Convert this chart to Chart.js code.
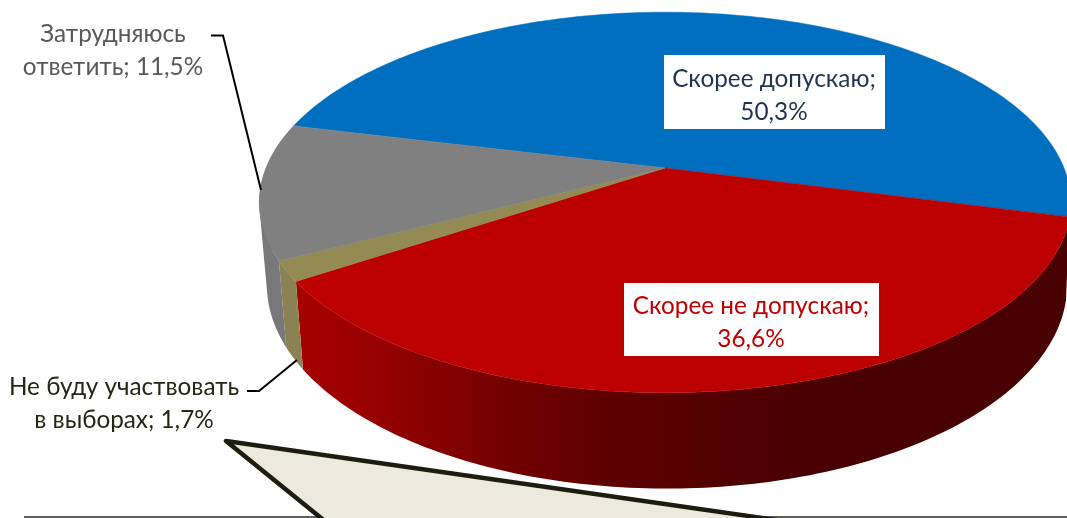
<!DOCTYPE html>
<html lang="ru">
<head>
<meta charset="utf-8">
<title>Скорее допускаю</title>
<script src="https://cdn.jsdelivr.net/npm/chart.js@4"></script>
<style>
  html, body { margin: 0; padding: 0; background: #fff; }
  canvas { display: block; }
</style>
</head>
<body>
<canvas id="grafico" width="1067" height="518"></canvas>
<script>
const categorias = ['Скорее допускаю', 'Скорее не допускаю', 'Не буду участвовать в выборах', 'Затрудняюсь ответить'];
const valores = [50.3, 36.6, 1.7, 11.5];
const coresTopo = ['#006fc0', '#bc0000', '#948a54', '#808080'];
const coresLado = [null, null, '#8b8253', '#78787b'];
const rotacao = -76.2;

// perspective of the pie: same tilt for both discs, the lower one is just moved down
const tilt = 0.181;
const discoTopo = { x: 665, y: 168, a: 399, b: 184 };
const discoBase = { x: 667, y: 248, a: 393.5, b: 197 };

const FONTE = '24.3px Lato, "Noto Sans", sans-serif';

function projetar(disco, ang) {
    const u = Math.cos(ang), v = Math.sin(ang);
    const w = 1 - tilt * v;
    return [disco.x + disco.a * u / w, disco.y + disco.b * v / w];
}

function pontosArco(disco, ini, fim) {
    const pts = [];
    const passos = Math.max(2, Math.ceil((fim - ini) / (Math.PI / 180)));
    for (let i = 0; i <= passos; i++) {
        pts.push(projetar(disco, ini + (fim - ini) * i / passos));
    }
    return pts;
}

function tracar(ctx, pts) {
    ctx.beginPath();
    pts.forEach((p, i) => i === 0 ? ctx.moveTo(p[0], p[1]) : ctx.lineTo(p[0], p[1]));
    ctx.closePath();
}

function areaSinal(pts) {
    let s = 0;
    pts.forEach((p, i) => {
        const q = pts[(i + 1) % pts.length];
        s += p[0] * q[1] - q[0] * p[1];
    });
    return s;
}

function gradienteVermelho(ctx) {
    const g = ctx.createLinearGradient(300, 0, 1067, 0);
    g.addColorStop(0, '#a80000');
    g.addColorStop(0.13, '#900000');
    g.addColorStop(0.26, '#750000');
    g.addColorStop(0.39, '#600000');
    g.addColorStop(0.52, '#540000');
    g.addColorStop(0.65, '#4a0000');
    g.addColorStop(1, '#480000');
    return g;
}

const pizza3d = {
    id: 'pizza3d',
    beforeDatasetDraw(chart) {
        const ctx = chart.ctx;
        const arcos = chart.getDatasetMeta(0).data;

        // side wall first, only the slices facing the viewer.
        // quads with the same winding in one path, otherwise the wall cancels itself
        // where it turns round at the left
        arcos.forEach((arco, i) => {
            const meio = (arco.startAngle + arco.endAngle) / 2;
            if (Math.sin(meio) < -0.5) return;
            const cima = pontosArco(discoTopo, arco.startAngle, arco.endAngle);
            const baixo = pontosArco(discoBase, arco.startAngle, arco.endAngle);
            ctx.beginPath();
            for (let k = 0; k < cima.length - 1; k++) {
                const quad = [cima[k], cima[k + 1], baixo[k + 1], baixo[k]];
                if (areaSinal(quad) < 0) quad.reverse();
                quad.forEach((p, n) => n === 0 ? ctx.moveTo(p[0], p[1]) : ctx.lineTo(p[0], p[1]));
                ctx.closePath();
            }
            ctx.fillStyle = coresLado[i] || gradienteVermelho(ctx);
            ctx.fill();
        });

        arcos.forEach((arco, i) => {
            const borda = pontosArco(discoTopo, arco.startAngle, arco.endAngle);
            tracar(ctx, [[discoTopo.x, discoTopo.y]].concat(borda));
            ctx.fillStyle = coresTopo[i];
            ctx.strokeStyle = coresTopo[i];
            ctx.lineWidth = 0.5;
            ctx.fill();
            ctx.stroke();
        });
        return false;
    },
    afterDraw(chart) {
        const ctx = chart.ctx;
        ctx.save();

        // bottom rule and the beige callout that is cut off by the page
        ctx.strokeStyle = '#2a2a2a';
        ctx.lineWidth = 1.5;
        ctx.beginPath();
        ctx.moveTo(24, 517);
        ctx.lineTo(1067, 517);
        ctx.stroke();

        ctx.beginPath();
        ctx.moveTo(226, 441);
        ctx.lineTo(790, 522);
        ctx.lineTo(326, 522);
        ctx.closePath();
        ctx.fillStyle = '#ece9dd';
        ctx.strokeStyle = '#1d1d0f';
        ctx.lineWidth = 4.5;
        ctx.lineJoin = 'round';
        ctx.fill();
        ctx.stroke();

        // leader lines
        ctx.strokeStyle = '#000';
        ctx.lineWidth = 2;
        ctx.lineJoin = 'miter';
        ctx.beginPath();
        ctx.moveTo(211, 35.5);
        ctx.lineTo(223, 35.5);
        ctx.lineTo(261, 190);
        ctx.moveTo(247, 391);
        ctx.lineTo(259, 391);
        ctx.lineTo(297, 360);
        ctx.stroke();

        // white boxes behind the two big labels
        ctx.fillStyle = '#fff';
        ctx.fillRect(664, 55, 221, 74);
        ctx.fillRect(624, 283, 255, 73);

        ctx.font = FONTE;
        ctx.textAlign = 'center';
        ctx.textBaseline = 'alphabetic';
        const r = (txt, x, y, cor) => { ctx.fillStyle = cor; ctx.fillText(txt, x, y); };
        r('Затрудняюсь', 113, 42, '#595959');
        r('ответить; ' + fmt(valores[3]), 113, 75, '#595959');
        r('Не буду участвовать', 124, 395, '#262617');
        r('в выборах; ' + fmt(valores[2]), 124, 428, '#262617');
        r(categorias[0] + ';', 774, 87, '#1f3354');
        r(fmt(valores[0]), 774, 120, '#1f3354');
        r(categorias[1] + ';', 751, 314, '#c00000');
        r(fmt(valores[1]), 751, 347, '#c00000');
        ctx.restore();
    }
};

function fmt(v) {
    return v.toFixed(1).replace('.', ',') + '%';
}

new Chart(document.getElementById('grafico'), {
    type: 'pie',
    data: {
        labels: categorias,
        datasets: [{ data: valores, backgroundColor: coresTopo, borderWidth: 0 }]
    },
    options: {
        responsive: false,
        animation: false,
        rotation: rotacao,
        plugins: { legend: { display: false }, tooltip: { enabled: false } }
    },
    plugins: [pizza3d]
});
</script>
</body>
</html>
